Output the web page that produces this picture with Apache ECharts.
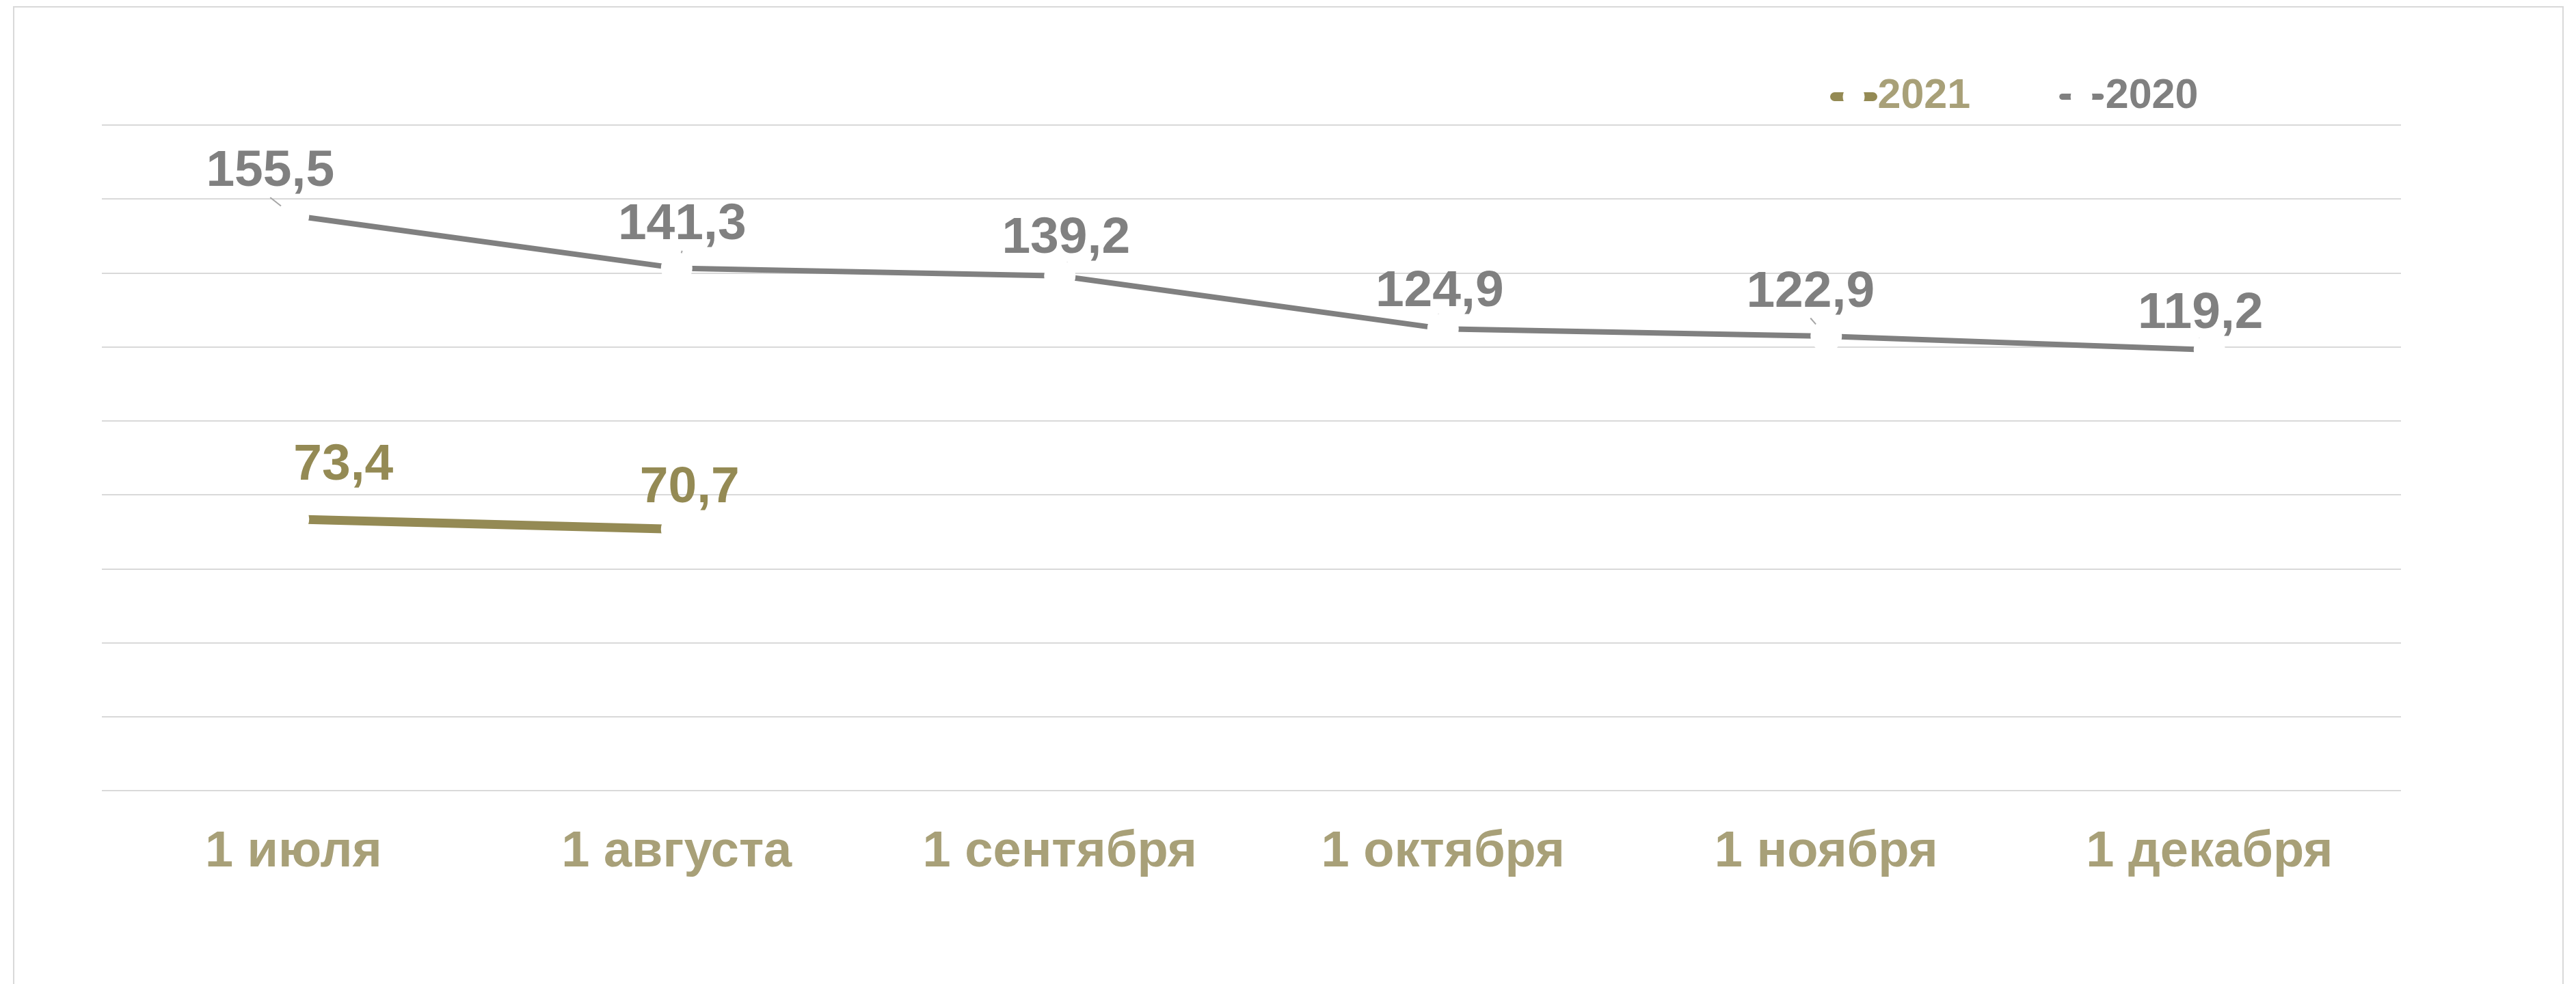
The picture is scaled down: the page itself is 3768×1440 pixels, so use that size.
<!DOCTYPE html>
<html lang="ru" style="height: 100%">

<head>
  <meta charset="utf-8">
  <title>2020 / 2021</title>
  <script src="https://cdn.jsdelivr.net/npm/echarts@6.0.0/dist/echarts.min.js"></script>
</head>

<body style="height: 100%; margin: 0; background: #fff">
  <div style="position: absolute; left: 19px; top: 9px; width: 3727px; height: 1440px; border: 2px solid #d9d9d9"></div>
  <div id="chart" style="position: absolute; left: 0; top: 0; width: 3768px; height: 1440px"></div>
  <script type="text/javascript">
    const categories = ['1 июля', '1 августа', '1 сентября', '1 октября', '1 ноября', '1 декабря'];
    const values2020 = [155.5, 141.3, 139.2, 124.9, 122.9, 119.2];
    const values2021 = [73.4, 70.7, null, null, null, null];

    // label shift from the point (px)
    const shift2020 = [[-34, -64], [8, -63], [9, -54], [-5, -54], [-23, -64], [-13, -53]];
    const shift2021 = [[73, -79], [19, -60], [0, 0], [0, 0], [0, 0], [0, 0]];

    const font = "'Liberation Sans', Arial, sans-serif";
    const fmt = p => p.value == null ? '' : p.value.toFixed(1).replace('.', ',');

    const chart = echarts.init(document.getElementById('chart'));
    const option = {
      animation: false,
      grid: {
        left: 149,
        right: 256,
        top: 183,
        bottom: 283
      },
      legend: {
        left: 2672,
        top: 106,
        itemWidth: 56,
        itemHeight: 40,
        itemGap: 130,
        textStyle: {
          fontFamily: font,
          fontWeight: 'bold',
          fontSize: 61,
          padding: [0, 0, 0, 2]
        },
        data: [
          { name: '2021', textStyle: { color: '#a8a078' }, lineStyle: { width: 13, cap: 'round' } },
          { name: '2020', textStyle: { color: '#808080' }, lineStyle: { width: 9, cap: 'round' } }
        ]
      },
      xAxis: {
        type: 'category',
        data: categories,
        boundaryGap: true,
        axisLine: { show: false },
        axisTick: { show: false },
        axisLabel: {
          interval: 0,
          margin: 54,
          color: '#a8a078',
          fontFamily: font,
          fontWeight: 'bold',
          fontSize: 74,
          lineHeight: 74
        }
      },
      yAxis: {
        type: 'value',
        min: 0,
        max: 180,
        interval: 20,
        axisLabel: { show: false },
        axisLine: { show: false },
        axisTick: { show: false },
        splitLine: { lineStyle: { color: '#d9d9d9', width: 2 } }
      },
      series: [{
          name: '2020',
          type: 'line',
          data: values2020,
          symbol: 'circle',
          symbolSize: 46,
          itemStyle: { color: '#fff', borderWidth: 0 },
          lineStyle: { color: '#808080', width: 8 },
          emphasis: { disabled: true },
          label: {
            show: true,
            position: 'inside',
            formatter: fmt,
            color: '#808080',
            fontFamily: font,
            fontWeight: 'bold',
            fontSize: 75,
            lineHeight: 75
          },
          labelLine: {
            show: true,
            lineStyle: { color: '#a6a6a6', width: 2 }
          },
          labelLayout: function (params) {
            const s = shift2020[params.dataIndex];
            return { dx: s[0], dy: s[1] };
          }
        },
        {
          name: '2021',
          type: 'line',
          data: values2021,
          symbol: 'circle',
          symbolSize: 46,
          itemStyle: { color: '#fff', borderWidth: 0 },
          lineStyle: { color: '#948a54', width: 13 },
          emphasis: { disabled: true },
          label: {
            show: true,
            position: 'inside',
            formatter: fmt,
            color: '#948a54',
            fontFamily: font,
            fontWeight: 'bold',
            fontSize: 75,
            lineHeight: 75
          },
          labelLayout: function (params) {
            const s = shift2021[params.dataIndex];
            return { dx: s[0], dy: s[1] };
          }
        }
      ]
    };
    chart.setOption(option);
  </script>
</body>

</html>
